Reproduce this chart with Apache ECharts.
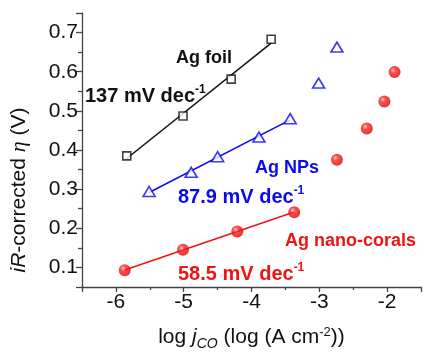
<!DOCTYPE html>
<html lang="en">
<head>
<meta charset="utf-8">
<title>Tafel plot</title>
<script src="https://cdn.jsdelivr.net/npm/echarts@6/dist/echarts.min.js"></script>
</head>
<body style="margin:0">
<div id="container" style="width:424px;height:356px"></div>
<script type="text/javascript">

// log j_CO values and iR-corrected overpotentials
var foilX = [-5.84, -5.01, -4.30, -3.71];
var foilY = [0.385, 0.487, 0.581, 0.683];
var npX = [-5.51, -4.89, -4.50, -3.89, -3.43, -3.01, -2.74];
var npY = [0.294, 0.343, 0.383, 0.433, 0.480, 0.571, 0.663];
var coralX = [-5.87, -5.01, -4.21, -3.37, -2.74, -2.30, -2.04, -1.89];
var coralY = [0.093, 0.145, 0.192, 0.241, 0.375, 0.455, 0.524, 0.599];
// number of points (from the low end) used for each Tafel fit
var fitCount = [4, 5, 4];
var slopeText = ['137', '87.9', '58.5'];
var seriesNames = ['Ag foil', 'Ag NPs', 'Ag nano-corals'];

var FONT = "'Liberation Sans', Arial, sans-serif";

function pairs(xs, ys) {
	var out = [];
	for (var i = 0; i < xs.length; i++) out.push([xs[i], ys[i]]);
	return out;
}

// least squares line over the first n points, drawn from first to last fitted x
function fitLine(xs, ys, n) {
	var sx = 0, sy = 0, sxx = 0, sxy = 0;
	for (var i = 0; i < n; i++) {
		sx += xs[i]; sy += ys[i]; sxx += xs[i] * xs[i]; sxy += xs[i] * ys[i];
	}
	var k = (n * sxy - sx * sy) / (n * sxx - sx * sx);
	var b = (sy - k * sx) / n;
	var x0 = xs[0], x1 = xs[n - 1];
	return [[x0, k * x0 + b], [x1, k * x1 + b]];
}

var black = '#111111', blue = '#0a0aee', red = '#ee1414';

var redBall = {
	type: 'radial', x: 0.38, y: 0.35, r: 0.65,
	colorStops: [
		{ offset: 0, color: '#ffc4c4' },
		{ offset: 0.35, color: '#ff2222' },
		{ offset: 1, color: '#dd0000' }
	]
};

var dom = document.getElementById('container');
var myChart = echarts.init(dom, null, { renderer: 'canvas' });

var option = {
	animation: false,
	backgroundColor: '#ffffff',
	grid: { left: 78, right: -5, top: 13, bottom: 60, containLabel: false },
	xAxis: {
		type: 'value',
		min: -6.5,
		max: -1.5,
		splitNumber: 5,
		splitLine: { show: false },
		axisLine: { lineStyle: { color: '#444', width: 1.3 } },
		axisTick: { length: 5, lineStyle: { color: '#444', width: 1.3 } },
		minorTick: { show: true, splitNumber: 2, length: 3, lineStyle: { color: '#444', width: 1.3 } },
		axisLabel: {
			fontFamily: FONT, fontSize: 21, color: '#111', margin: 5,
			formatter: function (v) { return Math.abs(v - Math.round(v)) < 1e-6 ? String(Math.round(v)) : ''; }
		},
		name: 'log {i|j}{sub|CO} (log (A cm{sup|-2}))',
		nameLocation: 'middle',
		nameGap: 36,
		nameTextStyle: {
			fontFamily: FONT, fontSize: 21, color: '#111',
			rich: {
				i: { fontFamily: FONT, fontSize: 21, fontStyle: 'italic', color: '#111' },
				sub: { fontFamily: FONT, fontSize: 14, fontStyle: 'italic', color: '#111', padding: [14, 0, 0, 0] },
				sup: { fontFamily: FONT, fontSize: 13, color: '#111', padding: [0, 0, 10, 0] }
			}
		}
	},
	yAxis: {
		type: 'value',
		min: 0.05,
		max: 0.75,
		splitNumber: 7,
		splitLine: { show: false },
		axisLine: { show: true, lineStyle: { color: '#444', width: 1.3 } },
		axisTick: { show: true, length: 6, lineStyle: { color: '#444', width: 1.3 } },
		minorTick: { show: true, splitNumber: 2, length: 4, lineStyle: { color: '#444', width: 1.3 } },
		axisLabel: {
			fontFamily: FONT, fontSize: 21, color: '#111', margin: 4,
			formatter: function (v) { return Math.abs(v * 10 - Math.round(v * 10)) < 1e-6 ? v.toFixed(1) : ''; }
		},
		name: '{i|iR}-corrected {e|η} (V)',
		nameLocation: 'middle',
		nameGap: 52,
		nameTextStyle: {
			fontFamily: FONT, fontSize: 21, color: '#111', padding: [0, 80, 0, 0],
			rich: {
				i: { fontFamily: FONT, fontSize: 21, fontStyle: 'italic', color: '#111' },
				e: { fontFamily: "'Liberation Serif', serif", fontSize: 22, fontStyle: 'italic', color: '#111' }
			}
		}
	},
	series: [
		{
			name: seriesNames[0] + ' fit', type: 'line', data: fitLine(foilX, foilY, fitCount[0]),
			symbol: 'none', lineStyle: { color: black, width: 1.5 }, z: 1
		},
		{
			name: seriesNames[0], type: 'scatter', data: pairs(foilX, foilY),
			symbol: 'rect', symbolSize: 8,
			itemStyle: { color: '#fff', borderColor: black, borderWidth: 1.6 }, z: 3
		},
		{
			name: seriesNames[1] + ' fit', type: 'line', data: fitLine(npX, npY, fitCount[1]),
			symbol: 'none', lineStyle: { color: blue, width: 1.5 }, z: 1
		},
		{
			name: seriesNames[1], type: 'scatter', data: pairs(npX, npY),
			symbol: 'triangle', symbolSize: [12, 10],
			itemStyle: { color: '#fff', borderColor: blue, borderWidth: 1.6 }, z: 3
		},
		{
			name: seriesNames[2] + ' fit', type: 'line', data: fitLine(coralX, coralY, fitCount[2]),
			symbol: 'none', lineStyle: { color: red, width: 1.5 }, z: 1
		},
		{
			name: seriesNames[2], type: 'scatter', data: pairs(coralX, coralY),
			symbol: 'circle', symbolSize: 12,
			itemStyle: { color: redBall }, z: 3
		}
	],
	graphic: [
		{ type: 'text', x: 176, y: 58, style: { text: seriesNames[0], fill: black, font: 'bold 18px ' + FONT, verticalAlign: 'middle' } },
		{ type: 'text', x: 85, y: 96, style: {
			text: slopeText[0] + ' mV dec{s|-1}', fill: black, font: 'bold 20px ' + FONT, verticalAlign: 'middle',
			rich: { s: { fontSize: 12, fontWeight: 'bold', fontFamily: FONT, fill: black, padding: [0, 0, 12, 0] } } } },
		{ type: 'text', x: 255, y: 168, style: { text: seriesNames[1], fill: blue, font: 'bold 18px ' + FONT, verticalAlign: 'middle' } },
		{ type: 'text', x: 178, y: 197, style: {
			text: slopeText[1] + ' mV dec{s|-1}', fill: blue, font: 'bold 20px ' + FONT, verticalAlign: 'middle',
			rich: { s: { fontSize: 12, fontWeight: 'bold', fontFamily: FONT, fill: blue, padding: [0, 0, 12, 0] } } } },
		{ type: 'text', x: 285, y: 241, style: { text: seriesNames[2], fill: red, font: 'bold 18px ' + FONT, verticalAlign: 'middle' } },
		{ type: 'text', x: 178, y: 274, style: {
			text: slopeText[2] + ' mV dec{s|-1}', fill: red, font: 'bold 20px ' + FONT, verticalAlign: 'middle',
			rich: { s: { fontSize: 12, fontWeight: 'bold', fontFamily: FONT, fill: red, padding: [0, 0, 12, 0] } } } }
	]
};

myChart.setOption(option);
window.addEventListener('resize', myChart.resize);
</script>
</body>
</html>
